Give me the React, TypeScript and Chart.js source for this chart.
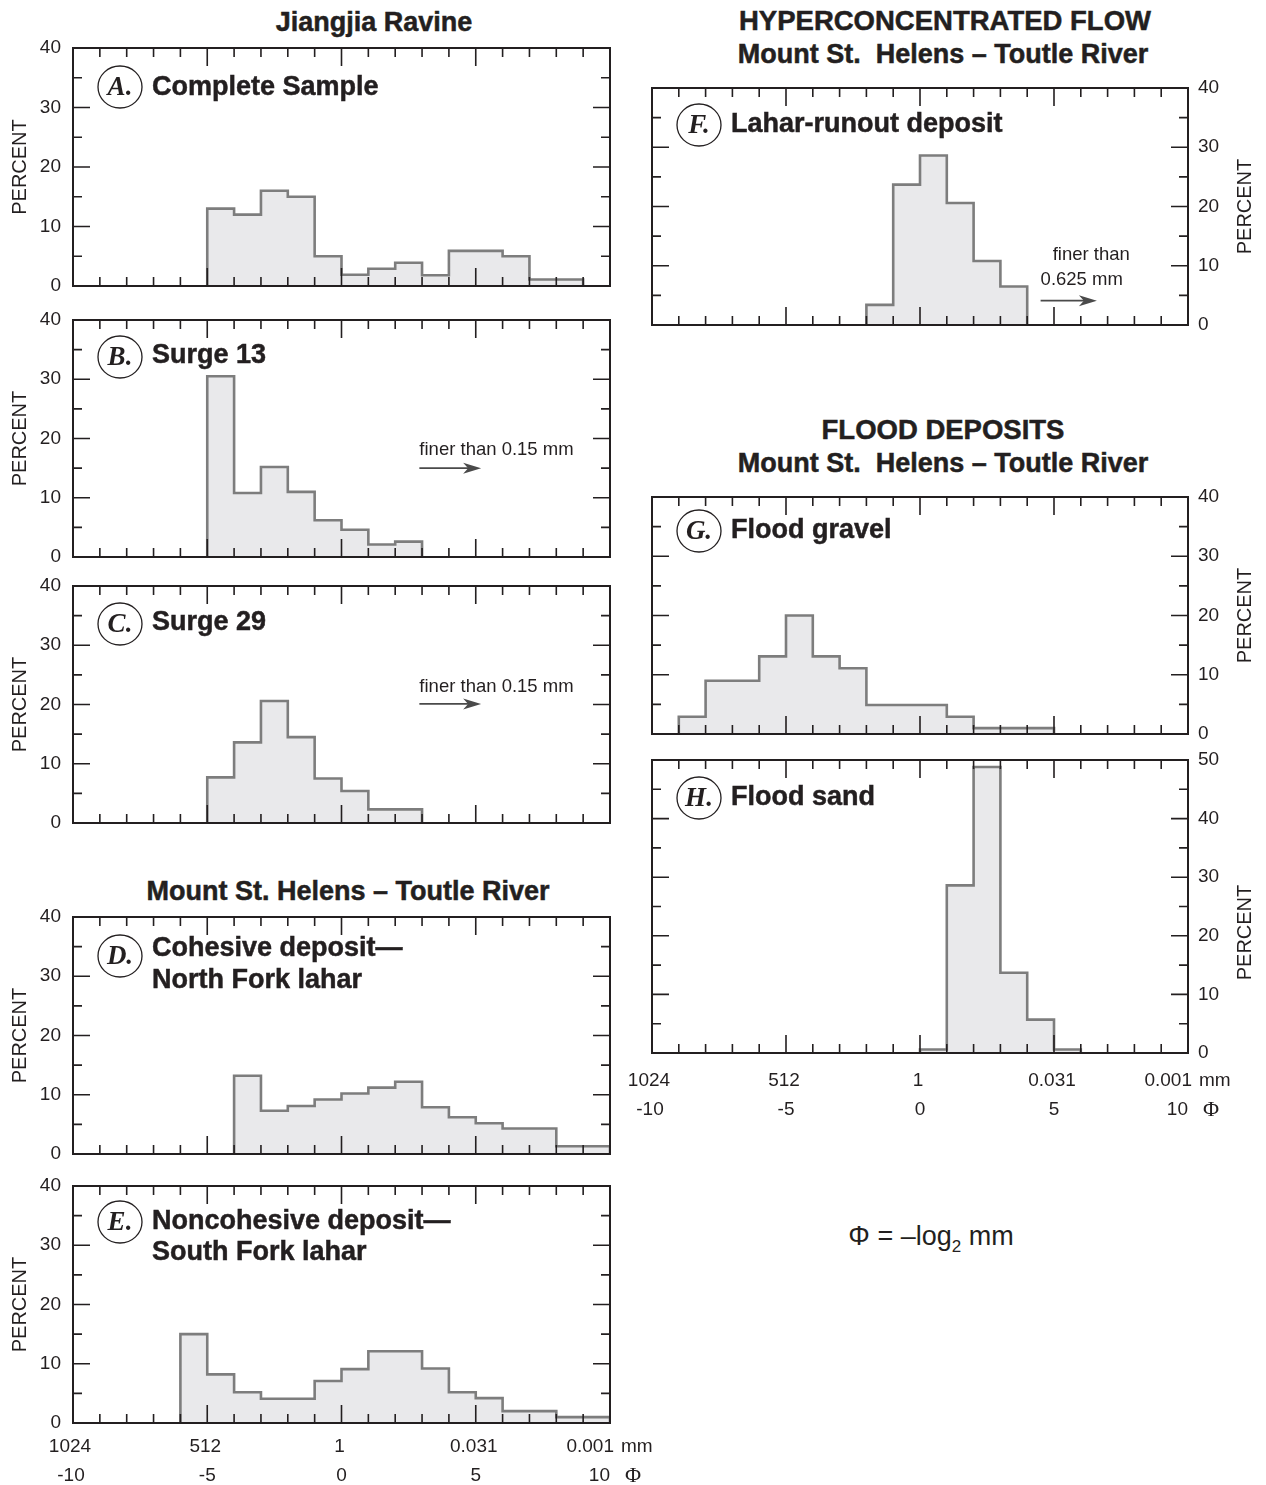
import React, { useEffect, useRef } from 'react';
import { Chart, registerables } from 'chart.js';

Chart.register(...registerables);

const SANS = '"Liberation Sans", Arial, Helvetica, sans-serif';
const SERIF = '"Liberation Serif", "Times New Roman", serif';
const INK = '#231f20';

// ---------------- data ----------------
const PHI_LABEL_VALUES = [-10, -5, 0, 5, 10];
const MM_LABELS = ['1024', '512', '1', '0.031', '0.001'];
const PHI_LABELS = ['-10', '-5', '0', '5', '10'];

const A_START = -5;
const A_VALUES = [13, 12, 16, 15, 5, 1.9, 2.9, 3.9, 1.8, 5.9, 5.9, 5, 1.1, 1.1];
const B_START = -5;
const B_VALUES = [30.5, 10.8, 15.2, 11, 6.2, 4.6, 2.1, 2.6];
const C_START = -5;
const C_VALUES = [7.7, 13.6, 20.6, 14.5, 7.5, 5.4, 2.3, 2.3];
const D_START = -4;
const D_VALUES = [13.2, 7.3, 8.1, 9.2, 10.2, 11.2, 12.2, 7.9, 6.2, 5.2, 4.3, 4.3, 1.3, 1.3];
const E_START = -6;
const E_VALUES = [15, 8.2, 5.2, 4.1, 4.1, 7.1, 9.1, 12.1, 12.1, 9.2, 5.2, 4.2, 2.0, 2.0, 1.0, 1.0];
const F_START = -2;
const F_VALUES = [3.4, 23.7, 28.6, 20.6, 10.8, 6.5];
const G_START = -9;
const G_VALUES = [2.9, 9.0, 9.0, 13.1, 20, 13.1, 11.1, 4.9, 4.9, 4.9, 2.9, 1.0, 1.0, 1.0];
const H_START = 0;
const H_VALUES = [0.6, 28.6, 48.8, 13.7, 5.7, 0.6];

const NOTE_FINE_015 = 'finer than 0.15 mm';
const NOTE_FINE_0625 = ['finer than', '0.625 mm'];

const TITLE_JIANGJIA = 'Jiangjia Ravine';
const TITLE_MSH_LEFT = 'Mount St. Helens \u2013 Toutle River';
const TITLE_HYPER = 'HYPERCONCENTRATED FLOW';
const TITLE_MSH_RIGHT = 'Mount St.  Helens \u2013 Toutle River';
const TITLE_FLOOD = 'FLOOD DEPOSITS';

// ---------------- helpers ----------------
function histPoints(start: number, values: number[]) {
  const pts: { x: number; y: number }[] = [{ x: start, y: 0 }];
  values.forEach((v, i) => pts.push({ x: start + i, y: v }));
  pts.push({ x: start + values.length, y: 0 });
  return pts;
}

type NoteSpec = {
  texts: { text: string; x: number; y: number }[];
  arrow: { x1: number; x2: number; y: number };
};

type PanelSpec = {
  key: string;
  letter: string;
  lines: string[];
  start: number;
  values: number[];
  yMax: number;
  box: [number, number, number, number];
  side: 'left' | 'right';
  circleDy: number;
  lineDy: number[];
  xLabels?: { row1: number; row2: number };
  note?: NoteSpec;
  percentDy?: number;
  padBottom?: number;
};

const PANELS: PanelSpec[] = [
  { key: 'A', letter: 'A.', lines: ['Complete Sample'], start: A_START, values: A_VALUES, yMax: 40, box: [73, 48, 610, 286], side: 'left', circleDy: 39, lineDy: [40] },
  {
    key: 'B', letter: 'B.', lines: ['Surge 13'], start: B_START, values: B_VALUES, yMax: 40, box: [73, 320, 610, 557], side: 'left', circleDy: 37, lineDy: [36],
    note: { texts: [{ text: NOTE_FINE_015, x: 2.9, y: 18.0 }], arrow: { x1: 2.9, x2: 5.2, y: 15.0 } },
  },
  {
    key: 'C', letter: 'C.', lines: ['Surge 29'], start: C_START, values: C_VALUES, yMax: 40, box: [73, 586, 610, 823], side: 'left', circleDy: 38, lineDy: [37],
    note: { texts: [{ text: NOTE_FINE_015, x: 2.9, y: 23.0 }], arrow: { x1: 2.9, x2: 5.2, y: 20.1 } },
  },
  { key: 'D', letter: 'D.', lines: ['Cohesive deposit\u2014', 'North Fork lahar'], start: D_START, values: D_VALUES, yMax: 40, box: [73, 917, 610, 1154], side: 'left', circleDy: 39, lineDy: [32, 64] },
  { key: 'E', letter: 'E.', lines: ['Noncohesive deposit\u2014', 'South Fork lahar'], start: E_START, values: E_VALUES, yMax: 40, box: [73, 1186, 610, 1423], side: 'left', circleDy: 36, lineDy: [36, 67], xLabels: { row1: 24, row2: 53 }, padBottom: 62 },
  {
    key: 'F', letter: 'F.', lines: ['Lahar-runout deposit'], start: F_START, values: F_VALUES, yMax: 40, box: [652, 88, 1188, 325], side: 'right', circleDy: 37, lineDy: [37],
    note: { texts: [{ text: NOTE_FINE_0625[0], x: 4.95, y: 11.9 }, { text: NOTE_FINE_0625[1], x: 4.5, y: 7.6 }], arrow: { x1: 4.5, x2: 6.6, y: 4.1 } },
  },
  { key: 'G', letter: 'G.', lines: ['Flood gravel'], start: G_START, values: G_VALUES, yMax: 40, box: [652, 497, 1188, 734], side: 'right', circleDy: 34, lineDy: [34] },
  { key: 'H', letter: 'H.', lines: ['Flood sand'], start: H_START, values: H_VALUES, yMax: 50, box: [652, 760, 1188, 1053], side: 'right', circleDy: 38, lineDy: [38], xLabels: { row1: 28, row2: 57 }, percentDy: 26, padBottom: 80 },
];

// ---------------- decoration plugin ----------------
const decorPlugin = {
  id: 'decor',
  afterDatasetsDraw(chart: any, _args: any, o: any) {
    const spec: PanelSpec = o.spec;
    if (!spec) return;
    const { ctx, chartArea: ca, scales } = chart;
    const xs = scales.x;
    const ys = scales.y;
    ctx.save();

    // frame
    ctx.strokeStyle = INK;
    ctx.lineWidth = 2;
    ctx.strokeRect(ca.left, ca.top, ca.right - ca.left, ca.bottom - ca.top);

    // inward tick marks
    ctx.lineWidth = 1.6;
    ctx.beginPath();
    for (let v = xs.min + 1; v < xs.max; v += 1) {
      const px = xs.getPixelForValue(v);
      const len = v % 5 === 0 ? 18 : 9;
      ctx.moveTo(px, ca.bottom);
      ctx.lineTo(px, ca.bottom - len);
      ctx.moveTo(px, ca.top);
      ctx.lineTo(px, ca.top + len);
    }
    for (let v = ys.min + 5; v < ys.max; v += 5) {
      const py = ys.getPixelForValue(v);
      const len = v % 10 === 0 ? 17 : 9;
      ctx.moveTo(ca.left, py);
      ctx.lineTo(ca.left + len, py);
      ctx.moveTo(ca.right, py);
      ctx.lineTo(ca.right - len, py);
    }
    ctx.stroke();

    // PERCENT axis title
    ctx.fillStyle = INK;
    ctx.font = `20px ${SANS}`;
    ctx.textAlign = 'center';
    ctx.textBaseline = 'middle';
    const pcx = spec.side === 'left' ? 20 : ca.right + 57;
    const pcy = (ca.top + ca.bottom) / 2 + (spec.percentDy || 0);
    ctx.save();
    ctx.translate(pcx, pcy);
    ctx.rotate(-Math.PI / 2);
    ctx.fillText('PERCENT', 0, 0);
    ctx.restore();

    // circled letter
    const cx = ca.left + 47;
    const cy = ca.top + spec.circleDy;
    ctx.fillStyle = '#ffffff';
    ctx.beginPath();
    ctx.ellipse(cx, cy, 22, 21, 0, 0, Math.PI * 2);
    ctx.fill();
    ctx.strokeStyle = INK;
    ctx.lineWidth = 1.3;
    ctx.stroke();
    ctx.fillStyle = INK;
    ctx.font = `italic bold 27px ${SERIF}`;
    ctx.textAlign = 'center';
    ctx.fillText(spec.letter, cx, cy + 1);

    // panel label
    ctx.font = `bold 27px ${SANS}`;
    ctx.textAlign = 'left';
    ctx.strokeStyle = INK;
    ctx.lineWidth = 0.5;
    spec.lines.forEach((ln, i) => {
      ctx.fillText(ln, ca.left + 79, ca.top + spec.lineDy[i]);
      ctx.strokeText(ln, ca.left + 79, ca.top + spec.lineDy[i]);
    });

    // note with arrow
    if (spec.note) {
      ctx.font = `18.5px ${SANS}`;
      ctx.textAlign = 'left';
      spec.note.texts.forEach((t) => {
        ctx.fillText(t.text, xs.getPixelForValue(t.x), ys.getPixelForValue(t.y));
      });
      const a = spec.note.arrow;
      const x1 = xs.getPixelForValue(a.x1);
      const x2 = xs.getPixelForValue(a.x2);
      const y = ys.getPixelForValue(a.y);
      ctx.strokeStyle = '#4a4a4a';
      ctx.fillStyle = '#4a4a4a';
      ctx.lineWidth = 1.8;
      ctx.beginPath();
      ctx.moveTo(x1, y);
      ctx.lineTo(x2 - 10, y);
      ctx.stroke();
      ctx.beginPath();
      ctx.moveTo(x2, y);
      ctx.lineTo(x2 - 18, y - 5.5);
      ctx.lineTo(x2 - 13, y);
      ctx.lineTo(x2 - 18, y + 5.5);
      ctx.closePath();
      ctx.fill();
    }

    // x-axis labels (mm and phi)
    if (spec.xLabels) {
      ctx.fillStyle = INK;
      ctx.textBaseline = 'middle';
      const r1 = ca.bottom + spec.xLabels.row1;
      const r2 = ca.bottom + spec.xLabels.row2;
      PHI_LABEL_VALUES.forEach((v, i) => {
        const px = xs.getPixelForValue(v);
        const last = i === PHI_LABEL_VALUES.length - 1;
        const first = i === 0;
        ctx.font = `19px ${SANS}`;
        if (last) {
          ctx.textAlign = 'right';
          ctx.fillText(MM_LABELS[i], px + 4, r1);
          ctx.fillText(PHI_LABELS[i], px, r2);
          ctx.textAlign = 'left';
          ctx.fillText('mm', px + 11, r1);
          ctx.font = `22px ${SERIF}`;
          ctx.fillText('\u03A6', px + 15, r2);
        } else {
          ctx.textAlign = 'center';
          ctx.fillText(MM_LABELS[i], first ? px - 3 : px - 2, r1);
          ctx.fillText(PHI_LABELS[i], first ? px - 2 : px, r2);
        }
      });
    }
    ctx.restore();
  },
};

// ---------------- chart panel ----------------
function Panel({ spec }: { spec: PanelSpec }) {
  const ref = useRef<HTMLCanvasElement>(null);
  const isLeft = spec.side === 'left';
  const [l, t, r, b] = spec.box;
  const canvasLeft = isLeft ? 0 : 620;
  const canvasW = isLeft ? 660 : 646;
  const padTop = 30;
  const padBottom = spec.padBottom || 30;
  const canvasTop = t - padTop;
  const canvasH = b - t + padTop + padBottom;
  const axisW = isLeft ? l - canvasLeft : canvasLeft + canvasW - r;
  const padding = isLeft
    ? { left: 0, right: canvasLeft + canvasW - r, top: padTop, bottom: padBottom }
    : { left: l - canvasLeft, right: 0, top: padTop, bottom: padBottom };

  useEffect(() => {
    const chart = new Chart(ref.current as HTMLCanvasElement, {
      type: 'line',
      data: {
        datasets: [
          {
            data: histPoints(spec.start, spec.values),
            stepped: 'before',
            borderColor: '#7d7d7d',
            borderWidth: 2.6,
            backgroundColor: '#e9e9eb',
            fill: 'origin',
            pointRadius: 0,
            borderJoinStyle: 'miter',
            borderCapStyle: 'butt',
          } as any,
        ],
      },
      options: {
        animation: false,
        responsive: false,
        devicePixelRatio: 1,
        events: [],
        layout: { padding },
        plugins: {
          legend: { display: false },
          tooltip: { enabled: false },
          decor: { spec },
        } as any,
        scales: {
          x: { type: 'linear', min: -10, max: 10, display: false },
          y: {
            type: 'linear',
            position: isLeft ? 'left' : 'right',
            min: 0,
            max: spec.yMax,
            grid: { display: false, drawTicks: false },
            border: { display: false },
            ticks: {
              stepSize: 10,
              color: INK,
              padding: isLeft ? 12 : 10,
              font: { family: SANS, size: 19 },
            },
            afterFit: (scale: any) => {
              scale.width = axisW;
            },
          } as any,
        },
      },
      plugins: [decorPlugin],
    });
    return () => chart.destroy();
  }, []);

  return (
    <canvas
      ref={ref}
      width={canvasW}
      height={canvasH}
      style={{ position: 'absolute', left: canvasLeft, top: canvasTop, width: canvasW, height: canvasH }}
    />
  );
}

function Heading({ text, x, y, size = 27 }: { text: string; x: number; y: number; size?: number }) {
  return (
    <div
      style={{
        position: 'absolute',
        left: x,
        top: y,
        transform: 'translate(-50%, -50%)',
        whiteSpace: 'pre',
        fontFamily: SANS,
        fontWeight: 'bold',
        fontSize: size,
        color: INK,
        lineHeight: 1,
        WebkitTextStroke: '0.5px ' + INK,
      }}
    >
      {text}
    </div>
  );
}

export default function App() {
  return (
    <div
      style={{
        position: 'absolute',
        left: 0,
        top: 0,
        width: 1266,
        height: 1485,
        overflow: 'hidden',
        background: '#ffffff',
      }}
    >
      <Heading text={TITLE_JIANGJIA} x={374} y={22} />
      <Heading text={TITLE_MSH_LEFT} x={348} y={891} />
      <Heading text={TITLE_HYPER} x={945} y={21} size={27.5} />
      <Heading text={TITLE_MSH_RIGHT} x={943} y={54} />
      <Heading text={TITLE_FLOOD} x={943} y={430} size={27.5} />
      <Heading text={TITLE_MSH_RIGHT} x={943} y={463} />
      {PANELS.map((p) => (
        <Panel key={p.key} spec={p} />
      ))}
      <div
        style={{
          position: 'absolute',
          left: 931,
          top: 1236,
          transform: 'translate(-50%, -50%)',
          whiteSpace: 'pre',
          fontFamily: SANS,
          fontSize: 27,
          color: INK,
          lineHeight: 1,
        }}
      >
        {'\u03A6 = \u2013log'}
        <span style={{ fontSize: 17, position: 'relative', top: 7 }}>2</span>
        {' mm'}
      </div>
    </div>
  );
}
